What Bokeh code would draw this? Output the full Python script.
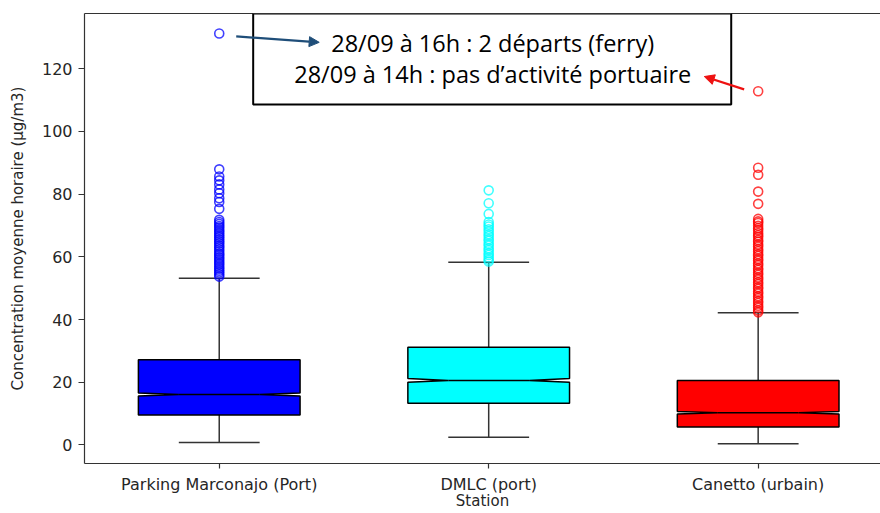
from bokeh.plotting import figure
from bokeh.models import FixedTicker, LinearAxis, Range1d, Arrow, NormalHead, BoxAnnotation, ColumnDataSource, Label
from bokeh.embed import file_html
from bokeh.resources import INLINE

# ---------------- data ----------------
stations = ["Parking Marconajo (Port)", "DMLC (port)", "Canetto (urbain)"]
box_colors = ["#0000ff", "#00ffff", "#ff0000"]
whisker_low = [0.8, 2.5, 0.4]
q1 = [9.6, 13.3, 5.7]
median = [16.1, 20.6, 10.3]
q3 = [27.2, 31.2, 20.6]
whisker_high = [53.2, 58.3, 42.2]
notch_half = [0.45, 0.6, 0.4]

outliers_marconajo = [131.2, 87.9, 85.6, 84.4, 83.1, 81.5, 80.3, 78.7, 77.5, 75.3,
                      71.8, 71.1, 70.5, 69.8, 69.3, 68.6, 68.0, 67.4, 66.7, 66.2,
                      65.5, 64.9, 64.3, 63.6, 63.1, 62.4, 61.8, 61.1, 60.6, 59.9,
                      59.3, 58.7, 58.0, 57.5, 56.8, 56.2, 55.6, 55.0, 54.4, 53.7]
outliers_dmlc = [81.2, 77.1, 73.7, 71.1, 70.3, 69.7, 68.8, 68.1, 67.2, 66.6, 65.7,
                 65.1, 64.2, 63.6, 62.7, 62.1, 61.2, 60.6, 59.8, 59.1, 58.5]
outliers_canetto = [112.8, 88.4, 86.2, 80.8, 76.9, 72.1, 71.3, 70.8, 69.9, 69.1,
                    68.5, 67.6, 66.9, 66.3, 65.4, 64.8, 63.9, 63.3, 62.4, 61.8,
                    60.9, 60.3, 59.4, 58.8, 57.9, 57.3, 56.4, 55.8, 54.9, 54.3,
                    53.4, 52.8, 51.9, 51.3, 50.4, 49.8, 48.9, 48.3, 47.4, 46.8,
                    45.9, 45.3, 44.4, 43.8, 42.9, 42.3]
outliers = [outliers_marconajo, outliers_dmlc, outliers_canetto]

y_ticks = [0, 20, 40, 60, 80, 100, 120]
annotation_lines = ["28/09 à 16h : 2 départs (ferry)",
                    "28/09 à 14h : pas d’activité portuaire"]

# ---------------- layout constants ----------------
BOX_W = 0.6
CAP_W = 0.3
positions = [i + 1 for i in range(len(stations))]

p = figure(width=880, height=513,
           x_range=Range1d(0.5, 3.454), y_range=Range1d(-5.9, 137.6),
           output_backend="svg", toolbar_location=None,
           min_border_left=84, min_border_right=0, min_border_top=13, min_border_bottom=50)
p.outline_line_color = None
p.grid.visible = False
p.background_fill_color = "white"

AX_COL = "#333333"
TXT_COL = "#262626"

# x axis
xa = p.xaxis[0]
xa.ticker = FixedTicker(ticks=positions)
xa.major_label_overrides = {pos: name for pos, name in zip(positions, stations)}
xa.minor_tick_line_color = None
xa.major_tick_out = 5
xa.major_tick_in = 0
xa.major_label_standoff = 6
xa.axis_label = "Station"
xa.axis_label_standoff = -5
xa.axis_label_text_font_style = "normal"

# y axis
ya = p.yaxis[0]
ya.ticker = FixedTicker(ticks=y_ticks)
ya.minor_tick_line_color = None
ya.major_tick_out = 6
ya.major_tick_in = 0
ya.major_label_standoff = 6
ya.axis_label = "Concentration moyenne horaire (µg/m3)"
ya.axis_label_standoff = 12
ya.axis_label_text_font_style = "normal"

for ax in (xa, ya):
    ax.axis_line_color = AX_COL
    ax.axis_line_width = 1.2
    ax.major_tick_line_color = AX_COL
    ax.major_tick_line_width = 1.2
    ax.major_label_text_font = "DejaVu Sans"
    ax.major_label_text_font_size = "16px"
    ax.major_label_text_color = TXT_COL
    ax.axis_label_text_font = "DejaVu Sans"
    ax.axis_label_text_font_size = "15px"
    ax.axis_label_text_color = TXT_COL

# top frame line
top_ax = LinearAxis(ticker=FixedTicker(ticks=[]), axis_line_color=AX_COL, axis_line_width=1.2,
                    major_tick_line_color=None, minor_tick_line_color=None,
                    major_label_standoff=0, major_tick_out=0, major_tick_in=0)
p.add_layout(top_ax, "above")

# ---------------- boxes ----------------
# whiskers
p.segment(x0=positions, y0=q3, x1=positions, y1=whisker_high, line_color=AX_COL, line_width=1.5)
p.segment(x0=positions, y0=whisker_low, x1=positions, y1=q1, line_color=AX_COL, line_width=1.5)
# caps
p.segment(x0=[x - CAP_W / 2 for x in positions], y0=whisker_high,
          x1=[x + CAP_W / 2 for x in positions], y1=whisker_high, line_color=AX_COL, line_width=1.5)
p.segment(x0=[x - CAP_W / 2 for x in positions], y0=whisker_low,
          x1=[x + CAP_W / 2 for x in positions], y1=whisker_low, line_color=AX_COL, line_width=1.5)

xs, ys = [], []
for x, a, m, b, n in zip(positions, q1, median, q3, notch_half):
    l, r = x - BOX_W / 2, x + BOX_W / 2
    li, ri = x - BOX_W / 4, x + BOX_W / 4
    xs.append([l, l, li, l, l, r, r, ri, r, r])
    ys.append([a, m - n, m, m + n, b, b, m + n, m, m - n, a])
p.patches(xs=xs, ys=ys, fill_color=box_colors, line_color="black", line_width=1.5)

# medians
p.segment(x0=[x - BOX_W / 4 for x in positions], y0=median,
          x1=[x + BOX_W / 4 for x in positions], y1=median, line_color="black", line_width=1.5)

# outliers
for x, vals, c in zip(positions, outliers, box_colors):
    src = ColumnDataSource(dict(x=[x] * len(vals), y=vals))
    p.scatter("x", "y", source=src, marker="circle", size=9, fill_color=None,
              line_color=c, line_width=1.6, line_alpha=0.75)

# ---------------- annotation ----------------
p.add_layout(BoxAnnotation(left=1.126, right=2.900, bottom=108.6, top=137.6,
                           fill_color="white", fill_alpha=1.0,
                           line_color="black", line_alpha=1.0, line_width=2,
                           level="annotation"))
p.add_layout(Label(x=2.015, y=128.2, text=annotation_lines[0], text_align="center",
                   text_baseline="middle", text_font="Open Sans", text_font_size="23.5px",
                   text_color="black", level="annotation"))
p.add_layout(Label(x=2.015, y=118.3, text=annotation_lines[1], text_align="center",
                   text_baseline="middle", text_font="Open Sans", text_font_size="23.5px",
                   text_color="black", level="annotation"))
p.add_layout(Arrow(x_start=1.063, y_start=130.3, x_end=1.371, y_end=128.4,
                   line_color="#1F4E79", line_width=2.2, level="annotation",
                   end=NormalHead(size=10, fill_color="#1F4E79", line_color="#1F4E79")))
p.add_layout(Arrow(x_start=2.948, y_start=113.4, x_end=2.800, y_end=117.5,
                   line_color="#EE1111", line_width=2.2, level="annotation",
                   end=NormalHead(size=10, fill_color="#EE1111", line_color="#EE1111")))

open("out.html", "w").write(file_html(p, INLINE))
